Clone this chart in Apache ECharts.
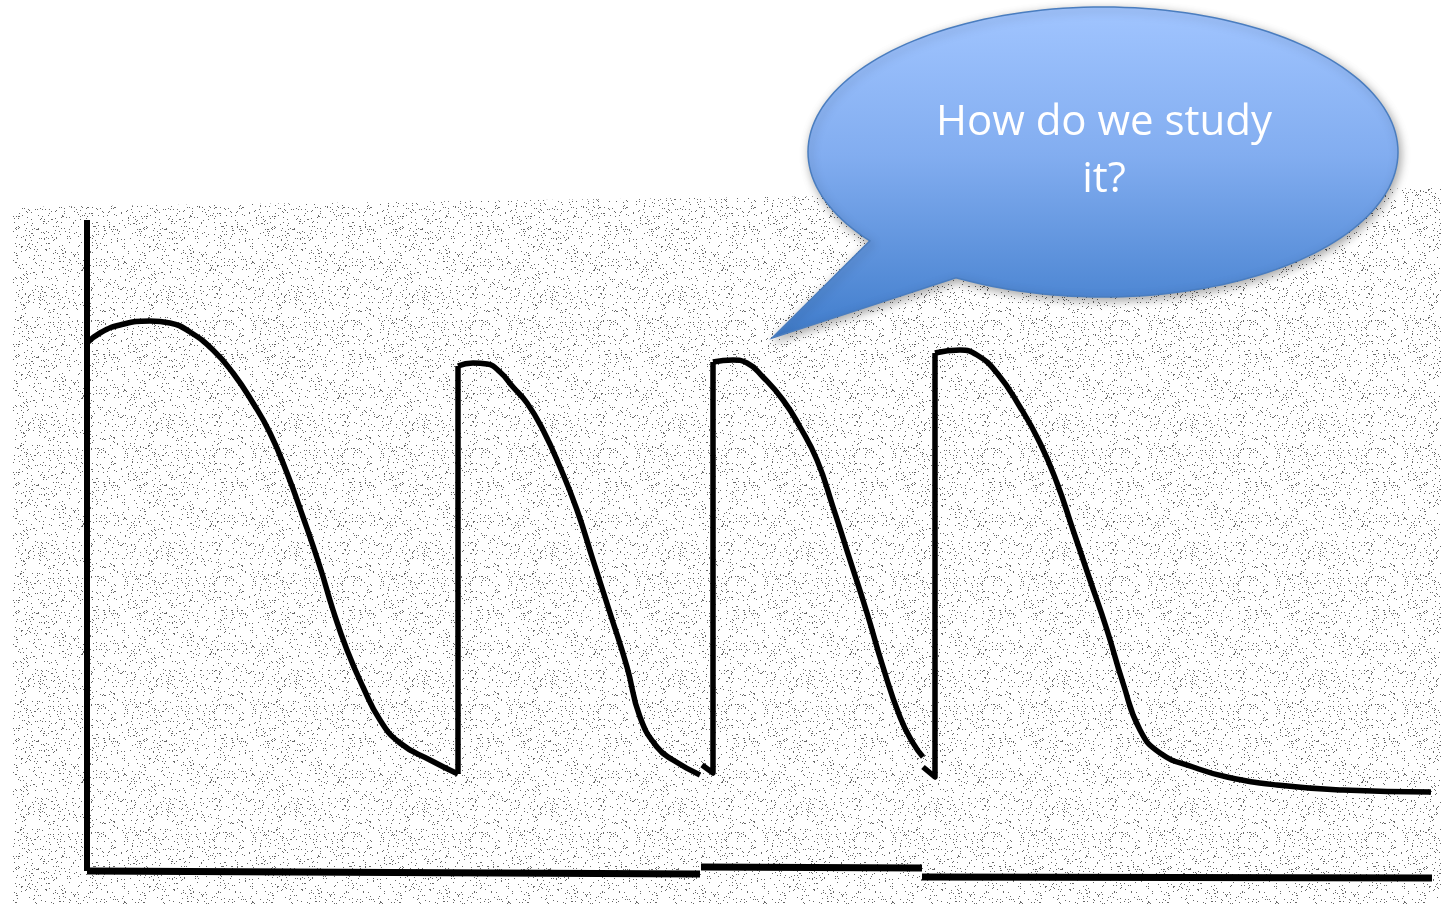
<!DOCTYPE html>
<html><head><meta charset="utf-8">
<script src="https://cdn.jsdelivr.net/npm/echarts@6/dist/echarts.min.js"></script>
<style>html,body{margin:0;padding:0;background:#fff;}#c{width:1441px;height:904px;}</style>
</head><body><div id="c"></div>
<script>
// t: time from the vertical axis, v: potential above the horizontal axis (units)
const curve1T = [0,13,33,63,83,103,126,146,166,183,200,216,233,246,260,276,293,313,343,371];
const curve1V = [527,537,545,549,547,538,520,497,467,437,397,353,303,260,220,183,150,127,110,96];
const up2T = [371,371];
const up2V = [96,504];
const curve2T = [371,386,400,413,426,440,456,473,490,506,523,540,553,570,586,613];
const curve2V = [504,507,506,498,483,467,440,403,360,310,257,203,153,123,110,95];
const up3T = [615,626,626];
const up3V = [105,97,508];
const curve3T = [626,646,660,676,696,713,730,746,763,780,796,813,826,836];
const curve3V = [508,510,507,493,470,443,410,363,310,257,203,153,127,113];
const up4T = [836,848,848];
const up4V = [103,93,517];
const curve4T = [848,873,890,910,933,953,970,986,1003,1020,1036,1053,1073,1106,1140,1190,1256,1344];
const curve4V = [517,520,515,497,463,427,387,340,290,240,187,140,117,103,93,85,80,78];
const axisYT = [0,0];
const axisYV = [650,-1];
const axisX1T = [0,613];
const axisX1V = [-1,-4];
const axisX2T = [614,835];
const axisX2V = [3,2];
const axisX3T = [835,1345];
const axisX3V = [-7,-8];
const bubbleLines = ['How do we study', 'it?'];

function zip(t, v) { return t.map((x, i) => [x, v[i]]); }

// deterministic speckle texture
const pc = document.createElement('canvas');
pc.width = 128; pc.height = 128;
const pctx = pc.getContext('2d');
let seed = 12345;
function lcg() { seed = (seed * 1103515245 + 12345) % 2147483648; return seed / 2147483648; }
pctx.fillStyle = 'rgba(40,40,40,0.7)';
for (let y = 0; y < 128; y++) {
  for (let x = 0; x < 128; x++) {
    if (lcg() < 0.05) pctx.fillRect(x, y, 1, 1);
  }
}

// speech-bubble outline: ellipse with a tail
const bcx = 1103, bcy = 152, brx = 295, bry = 145;
const a0 = 142.2, a1 = 119.9 + 360;
const bubblePts = [];
for (let a = a0; a <= a1 + 0.001; a += 2) {
  const r = a * Math.PI / 180;
  bubblePts.push([bcx + brx * Math.cos(r), bcy + bry * Math.sin(r)]);
}
bubblePts.push([bcx + brx * Math.cos(a1 * Math.PI / 180), bcy + bry * Math.sin(a1 * Math.PI / 180)]);
bubblePts.push([772, 338]);

const chart = echarts.init(document.getElementById('c'));
function lineSeries(t, v, w, smooth) {
  return {
    type: 'line', data: zip(t, v), symbol: 'none', smooth: smooth ? 0.5 : false,
    clip: false, silent: true, z: 3,
    lineStyle: { color: '#000', width: w, cap: 'butt', join: 'round' }
  };
}
const option = {
  animation: false,
  backgroundColor: '#ffffff',
  grid: { left: 87, right: 9, top: 220, bottom: 22 },
  xAxis: { type: 'value', min: 0, max: 1345, show: false },
  yAxis: { type: 'value', min: -12, max: 650, show: false },
  graphic: [
    {
      type: 'polygon', z: -10, silent: true,
      shape: { points: [[13,207],[1441,188],[1441,904],[13,904]] },
      style: { fill: { image: pc, repeat: 'repeat' } }
    },
    {
      type: 'polygon', z: 100, silent: true,
      shape: { points: bubblePts },
      style: {
        fill: {
          type: 'linear', x: 0, y: 0, x2: 0, y2: 1,
          colorStops: [
            { offset: 0, color: '#a1c5ff' },
            { offset: 0.45, color: '#82adf0' },
            { offset: 1, color: '#3f7ccb' }
          ]
        },
        stroke: '#4a7dbf', lineWidth: 1.5,
        shadowBlur: 10, shadowColor: 'rgba(0,0,0,0.35)', shadowOffsetX: 2, shadowOffsetY: 3
      }
    },
    {
      type: 'text', z: 101, x: 1104, y: 123, silent: true,
      style: { text: bubbleLines[0], fill: '#ffffff', font: '42px "Open Sans"', align: 'center', verticalAlign: 'middle' }
    },
    {
      type: 'text', z: 101, x: 1104, y: 180, silent: true,
      style: { text: bubbleLines[1], fill: '#ffffff', font: '42px "Open Sans"', align: 'center', verticalAlign: 'middle' }
    }
  ],
  series: [
    lineSeries(axisYT, axisYV, 6, false),
    lineSeries(axisX1T, axisX1V, 7, false),
    lineSeries(axisX2T, axisX2V, 7, false),
    lineSeries(axisX3T, axisX3V, 7, false),
    lineSeries(curve1T, curve1V, 5.5, true),
    lineSeries(up2T, up2V, 5.5, false),
    lineSeries(curve2T, curve2V, 5.5, true),
    lineSeries(up3T, up3V, 5.5, false),
    lineSeries(curve3T, curve3V, 5.5, true),
    lineSeries(up4T, up4V, 5.5, false),
    lineSeries(curve4T, curve4V, 5.5, true)
  ]
};
chart.setOption(option);
</script>
</body></html>
